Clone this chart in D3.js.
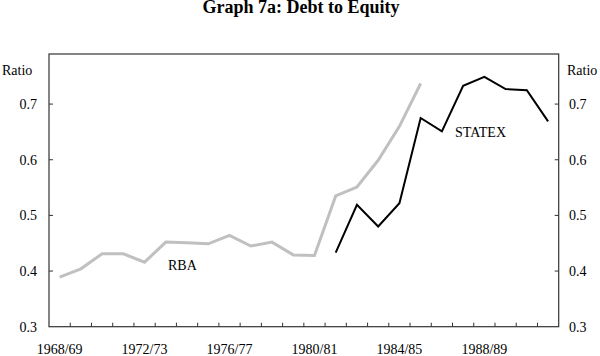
<!DOCTYPE html>
<html><head><meta charset="utf-8">
<script src="https://cdn.jsdelivr.net/npm/d3@7"></script>
<style>body{margin:0;background:#fff}svg{display:block}text{font-family:"Liberation Serif","Times New Roman",serif;fill:#000}</style>
</head><body><svg id="c" width="600" height="356"></svg>
<script>
const years = ["1968/69","1969/70","1970/71","1971/72","1972/73","1973/74","1974/75","1975/76","1976/77","1977/78","1978/79","1979/80","1980/81","1981/82","1982/83","1983/84","1984/85","1985/86","1986/87","1987/88","1988/89","1989/90","1990/91","1991/92"];
const labelYears = ["1968/69","1972/73","1976/77","1980/81","1984/85","1988/89"];
const rba = [0.389,0.404,0.431,0.431,0.416,0.452,0.451,0.449,0.464,0.445,0.452,0.429,0.428,0.535,0.551,0.599,0.660,0.737,null,null,null,null,null,null];
const statex = [null,null,null,null,null,null,null,null,null,null,null,null,null,0.433,0.519,0.480,0.522,0.675,0.651,0.733,0.749,0.727,0.725,0.669];
const yTicks = [0.3,0.4,0.5,0.6,0.7];

const svg = d3.select("#c");
const L = 49, R = 558.7, T = 54, B = 326.7;
const x = d3.scaleBand().domain(years).range([L, R]).padding(0);
const y = d3.scaleLinear().domain([0.3, 0.79]).range([B, T]);

svg.append("text").attr("x", 301).attr("y", 13).attr("text-anchor", "middle")
  .style("font-weight", "bold").style("font-size", "18px").text("Graph 7a: Debt to Equity");

// frame
svg.append("rect").attr("x", L).attr("y", T).attr("width", R - L).attr("height", B - T)
  .attr("fill", "none").attr("stroke", "#333").attr("stroke-width", 1.2);

// y ticks left and right
const gl = svg.append("g");
yTicks.forEach(v => {
  const yy = y(v);
  if (v > 0.3) {
    gl.append("line").attr("x1", L).attr("x2", L + 4).attr("y1", yy).attr("y2", yy).attr("stroke", "#333");
    gl.append("line").attr("x1", R - 4).attr("x2", R).attr("y1", yy).attr("y2", yy).attr("stroke", "#333");
  }
  gl.append("text").attr("x", 37).attr("y", yy + 5).attr("text-anchor", "end").style("font-size", "14px").text(d3.format(".1f")(v));
  gl.append("text").attr("x", 569).attr("y", yy + 5).attr("text-anchor", "start").style("font-size", "14px").text(d3.format(".1f")(v));
});
svg.append("text").attr("x", 2).attr("y", 75).style("font-size", "14px").text("Ratio");
svg.append("text").attr("x", 567).attr("y", 75).style("font-size", "14px").text("Ratio");

// x ticks at band boundaries
years.slice(1).forEach(yr => {
  const xx = x(yr);
  svg.append("line").attr("x1", xx).attr("x2", xx).attr("y1", B - 4).attr("y2", B).attr("stroke", "#333");
});
labelYears.forEach(yr => {
  svg.append("text").attr("x", x(yr) + x.bandwidth() / 2).attr("y", 354).attr("text-anchor", "middle")
    .style("font-size", "14px").text(yr);
});

const line = d3.line().defined(d => d.v != null).x(d => x(d.k) + x.bandwidth() / 2).y(d => y(d.v));
svg.append("path").datum(years.map((k, i) => ({k, v: rba[i]})))
  .attr("d", line).attr("fill", "none").attr("stroke", "#c0c0c0").attr("stroke-width", 3).attr("stroke-linejoin", "miter");
svg.append("path").datum(years.map((k, i) => ({k, v: statex[i]})))
  .attr("d", line).attr("fill", "none").attr("stroke", "#000").attr("stroke-width", 2);

svg.append("text").attr("x", 168).attr("y", 270).style("font-size", "14px").text("RBA");
svg.append("text").attr("x", 455).attr("y", 137).style("font-size", "14px").text("STATEX");
</script></body></html>
